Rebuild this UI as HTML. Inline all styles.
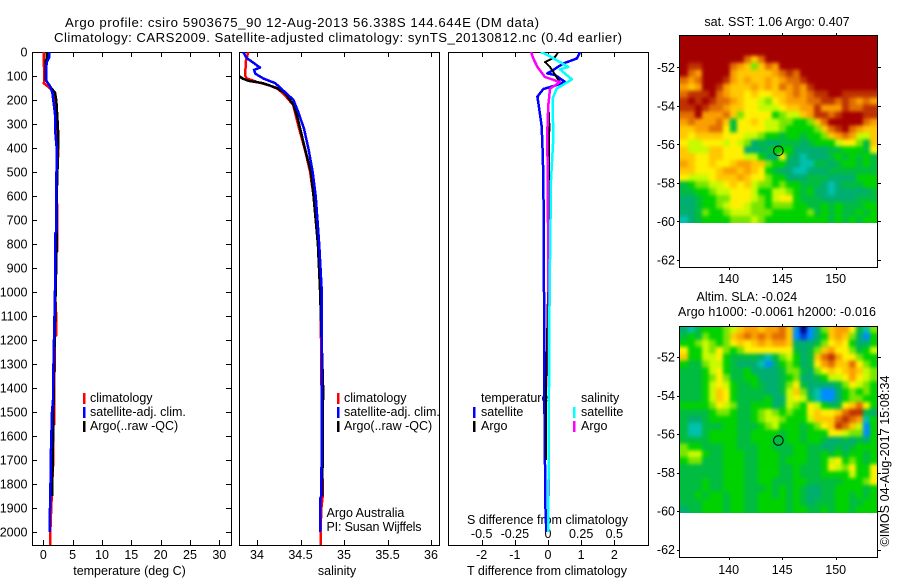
<!DOCTYPE html>
<html><head><meta charset="utf-8"><title>Argo profile</title>
<style>
html,body{margin:0;padding:0;background:#fff}
svg{display:block}
text{font-family:"Liberation Sans",sans-serif;font-size:12.5px;fill:#000}
text.ttl{font-size:13.2px}
</style></head>
<body>
<svg id="fig" width="900" height="580" viewBox="0 0 900 580" xmlns="http://www.w3.org/2000/svg">
<defs>
<clipPath id="c1"><rect x="32" y="52" width="199" height="493"/></clipPath>
<clipPath id="c2"><rect x="239" y="52" width="200" height="493"/></clipPath>
<clipPath id="c3"><rect x="448" y="52" width="200" height="493"/></clipPath>
<clipPath id="m1"><rect x="680" y="35" width="198" height="188"/></clipPath>
<clipPath id="m2"><rect x="680" y="326" width="198" height="187"/></clipPath>
<filter id="soft" filterUnits="userSpaceOnUse" x="640" y="0" width="260" height="580" color-interpolation-filters="sRGB"><feGaussianBlur stdDeviation="1.9"/></filter>
</defs>
<text class="ttl" x="65" y="27" textLength="474" lengthAdjust="spacing">Argo profile: csiro 5903675_90 12-Aug-2013 56.338S 144.644E (DM data)</text>
<text class="ttl" x="54" y="42" textLength="568" lengthAdjust="spacing">Climatology: CARS2009. Satellite-adjusted climatology: synTS_20130812.nc (0.4d earlier)</text>

<text x="129.5" y="575" text-anchor="middle">temperature (deg C)</text>
<text x="337" y="575" text-anchor="middle">salinity</text>
<text x="547" y="575" text-anchor="middle">T difference from climatology</text>
<text x="547.5" y="524" text-anchor="middle">S difference from climatology</text>

<g>
<rect x="83" y="393" width="2.5" height="11" fill="#f00"/>
<text x="90" y="402">climatology</text>
<rect x="83" y="407" width="2.5" height="11" fill="#00f"/>
<text x="90" y="416">satellite-adj. clim.</text>
<rect x="83" y="421" width="2.5" height="11" fill="#000"/>
<text x="90" y="430">Argo(..raw -QC)</text>
</g>
<g>
<rect x="337" y="393" width="2.5" height="11" fill="#f00"/>
<text x="344" y="402">climatology</text>
<rect x="337" y="407" width="2.5" height="11" fill="#00f"/>
<text x="344" y="416">satellite-adj. clim.</text>
<rect x="337" y="421" width="2.5" height="11" fill="#000"/>
<text x="344" y="430">Argo(..raw -QC)</text>
</g>
<text x="326.5" y="517">Argo Australia</text>
<text x="326.5" y="531" textLength="95">PI: Susan Wijffels</text>
<g>
<text x="481" y="402">temperature</text>
<rect x="473" y="407" width="2.5" height="11" fill="#00f"/>
<text x="481" y="416">satellite</text>
<rect x="473" y="421" width="2.5" height="11" fill="#000"/>
<text x="481" y="430">Argo</text>
<text x="581" y="402">salinity</text>
<rect x="573" y="407" width="2.5" height="11" fill="#0ff"/>
<text x="581" y="416">satellite</text>
<rect x="573" y="421" width="2.5" height="11" fill="#f0f"/>
<text x="581" y="430">Argo</text>
</g>

<text x="777" y="26" text-anchor="middle">sat. SST: 1.06 Argo: 0.407</text>
<text x="696.5" y="301">Altim. SLA: -0.024</text>
<text x="678" y="316" textLength="198">Argo h1000: -0.0061 h2000: -0.016</text>
<text transform="translate(889,546.5) rotate(-90)" textLength="171" lengthAdjust="spacing">©IMOS 04-Aug-2017 15:08:34</text>
<g id="plots"></g>
</svg>
<script>
// ---- axis tick labels
const depthTicks = [0,100,200,300,400,500,600,700,800,900,1000,1100,1200,1300,1400,1500,1600,1700,1800,1900,2000];
const tempTicks = [0,5,10,15,20,25,30];
const salTicks = [34,34.5,35,35.5,36];
const tDiffTicks = [-2,-1,0,1,2];
const sDiffTicks = [-0.5,-0.25,0,0.25,0.5];
const lonTicks = [140,145,150];
const latTicks = [-52,-54,-56,-58,-60,-62];

// ---- Argo float position
const argoLon = 144.644;
const argoLat = -56.338;

// ---- temperature panel
const tClimDepth = [0,120,130,150,175,300,365,400,440,445,500,800,830,835,1000,1100,1180,1185,1500,1550,1555,1700,1780,2000,2054];
const tClimVal = [0.07,0.17,0.07,1.1,2.0,2.17,2.5,2.5,2.5,2.3,2.28,2.4,2.4,2.15,2.0,2.2,2.2,1.95,1.88,1.88,1.7,1.7,1.55,1.2,1.2];
const tSatDepth = [0,20,40,60,120,140,170,200,230,260,320,400,500,750,755,1000,1400,1450,1500,1700,1900,1905,2000];
const tSatVal = [1.03,1.05,0.65,0.5,0.5,1.1,1.55,1.7,1.85,2.0,2.0,2.28,2.25,2.2,2.05,2.0,1.65,1.65,1.48,1.26,1.2,1.08,1.08];
const tArgoDepth = [0,30,35,115,145,170,200,300,350,460,600,800,1000,1400,1550,1800,1850];
const tArgoVal = [0.63,0.6,0.4,0.4,1.2,2.0,2.22,2.45,2.55,2.45,2.28,2.28,2.1,1.77,1.7,1.53,1.53];

// ---- salinity panel
const sClimDepth = [0,40,100,110,125,140,155,180,220,300,420,500,650,800,1000,1850,1900,2000,2054];
const sClimVal = [33.9,33.87,33.865,33.88,34.0,34.15,34.245,34.32,34.415,34.47,34.56,34.61,34.67,34.705,34.73,34.755,34.74,34.73,34.73];
const sSatDepth = [0,25,45,65,75,90,110,130,160,200,250,320,400,500,600,800,1000,1400,1850,1860,2000];
const sSatVal = [33.84,33.88,33.96,34.035,33.965,33.98,34.07,34.21,34.30,34.42,34.475,34.54,34.59,34.64,34.675,34.715,34.745,34.745,34.74,34.725,34.725];
const sArgoDepth = [100,110,120,130,150,170,220,280,400,500,600,800,1000,1400,1850];
const sArgoVal = [33.8,33.83,33.9,34.07,34.225,34.32,34.42,34.47,34.55,34.62,34.65,34.70,34.725,34.76,34.75];

// ---- difference panel
const dTSatDepth = [0,27,48,75,89,96,124,138,154,186,242,311,422,533,1000,1400,1550,1880,2000];
const dTSatVal = [0.97,0.87,0.46,0.16,-0.02,0.21,0.51,0.26,-0.14,-0.32,-0.26,-0.19,-0.16,-0.14,-0.12,-0.12,-0.1,-0.08,-0.05];
const dTArgoDepth = [0,21,42,62,104,125,153,208,300,533,1000,1400,1700];
const dTArgoVal = [0.31,0.21,-0.09,0.06,0.26,0.36,0.06,0.01,0.04,0.03,0,-0.06,-0.06];
const dSSatDepth = [0,14,62,72,114,153,194,361,533,1000,1400,1700,2000];
const dSSatVal = [-0.055,0.002,0.153,0.09,0.18,0.065,0.035,0.04,0.023,0.012,0.0075,0.005,0];
const dSArgoDepth = [0,28,62,104,125,153,222,333,533,1000,1400,1850];
const dSArgoVal = [-0.128,-0.11,-0.08,-0.023,0.09,0.015,0.002,-0.005,-0.002,0.004,0.0075,0.005];

// ---- map heatmap cells: each letter is a colour-scale level, a=lowest, o=highest
const sstRows = [
"oooooooooooooooooooooooooooo",
"oooooooooooooooooooooooooooo",
"oooooooooooooooooooooooooooo",
"ooooooooomkmoooooooooooooooo",
"onnoooomlkhkmloooooooooooooo",
"omloooolkkkkklmnmooooooooooo",
"mlmooonlklkklklmmnoooooooooo",
"lkloonlkkklklkmlmlnooooooooo",
"mnnnomlkkjkjjkklmlmnnoonnnnn",
"nonon"+"mml"+"kjjihj"+"klll"+"mm"+"nnmnmlml",
"nnonm"+"mlk"+"kjjiiij"+"kkll"+"n"+"lll"+"n"+"mmnn",
"mmo"+"ll"+"lm"+"k"+"h"+"jjjj"+"g"+"hii"+"kl"+"nn"+"mn"+"ooo"+"nn",
"lmlll"+"m"+"k"+"f"+"jjkj"+"iihh"+"gg"+"h"+"k"+"m"+"ooooo"+"m"+"l",
"kk"+"ll"+"mm"+"j"+"f"+"jjjj"+"iih"+"ggg"+"gh"+"k"+"m"+"no"+"m"+"lk"+"k",
"kj"+"kkkk"+"jjj"+"ii"+"hg"+"gfggfg"+"g"+"h"+"k"+"l"+"m"+"l"+"i"+"i"+"k",
"j"+"ii"+"jjj"+"iji"+"h"+"efeef"+"ff"+"e"+"fgg"+"g"+"ijj"+"h"+"f"+"k",
"k"+"ii"+"i"+"kk"+"jjj"+"eee"+"f"+"g"+"g"+"g"+"eeeee"+"ff"+"g"+"gg"+"f"+"j",
"kk"+"jj"+"kk"+"jjj"+"ii"+"g"+"ee"+"j"+"f"+"edeee"+"fgfgfgf",
"lk"+"jj"+"k"+"jj"+"kll"+"kk"+"h"+"gg"+"ee"+"dd"+"ffef"+"ggfgf",
"kk"+"jjj"+"kll"+"klk"+"j"+"g"+"f"+"ee"+"dd"+"eee"+"fffffff",
"j"+"iii"+"j"+"kk"+"klk"+"jj"+"h"+"gg"+"eee"+"fff"+"eeee"+"ggg",
"f"+"g"+"hh"+"ii"+"jkjk"+"i"+"hh"+"g"+"h"+"gg"+"fff"+"e"+"d"+"e"+"fff"+"g"+"g",
"ff"+"gg"+"h"+"ii"+"jjj"+"i"+"gg"+"iih"+"gfg"+"ee"+"d"+"eeeee"+"f",
"eef"+"gg"+"hh"+"jjj"+"i"+"h"+"g"+"ijj"+"g"+"fff"+"ee"+"eee"+"fff",
"ee"+"f"+"gg"+"h"+"ijji"+"hh"+"g"+"hhh"+"gg"+"ff"+"g"+"f"+"g"+"fff"+"g"+"g",
"ee"+"f"+"h"+"gg"+"h"+"iii"+"hhh"+"ggg"+"gg"+"h"+"fgfg"+"ffgfg",
"de"+"f"+"gggg"+"hhh"+"i"+"h"+"g"+"gggggggg"+"fgfgfgg"
];
const slaRows = [
"edfggghi"+"kllkllmk"+"cac"+"e"+"hkll"+"jfdh",
"fgfhgghk"+"lmlmlmmk"+"cbc"+"e"+"gklk"+"hecg",
"gghihghj"+"kjklkllk"+"eee"+"f"+"hjkj"+"geeg",
"jggihjhg"+"hjjjjjjj"+"fef"+"hkljjhfgi",
"kggiijgf"+"fffedfhi"+"gef"+"kmnljjhgg",
"gffhiigf"+"eeedcegh"+"gef"+"jlmkkmjhg",
"fffgijgf"+"fgeeeefh"+"hfe"+"hjkjklkih",
"fffghjhf"+"fggeeefg"+"hee"+"fgiijljih",
"fffgijig"+"ffgfeefh"+"jfe"+"eeefhjihg",
"fffgikjg"+"ffffeefi"+"khe"+"dcceghghg",
"fffgikjg"+"ffffgeei"+"jif"+"dcceghhgg",
"gggghjih"+"ffgggefi"+"hgj"+"igffjkmjg",
"ffffghhg"+"ffghihgh"+"ggj"+"kjjkmnnfe",
"feefgggg"+"ffghiihg"+"ggi"+"kkkmnmldg",
"fddfffgg"+"fffghigg"+"gfg"+"hjknmkicg",
"fddfgggg"+"ffggggfg"+"gfg"+"ggjjihhcg",
"ffffgggg"+"ffgggffg"+"gfg"+"gfeefefeg",
"hggfffgg"+"fffggfff"+"ggf"+"feefefggg",
"hiigffgg"+"gffgggff"+"ggf"+"fgfgfggfg",
"ghhfffgg"+"gffgggfg"+"ggf"+"fgijghgfg",
"ffffffgg"+"gffgggff"+"gff"+"fgjihjggj",
"ffffffgg"+"gffgggff"+"gff"+"fggggiggj",
"fffgffgg"+"gffggfff"+"ggf"+"ffffggghj",
"fffgffgg"+"gfffgfgf"+"gfe"+"effggggfg",
"ffgfggfg"+"gffggfgf"+"gfe"+"effggfgfg",
"fffgggfg"+"gffggggf"+"gfe"+"fffggffgg",
"effgggfg"+"gffggggf"+"ggf"+"fgfggfggg"
];
const levelLetters = "abcdefghijklmno";
const levelColors = ["#000082","#003cdc","#008cff","#00c0b0","#00ae70","#00bc40","#00d200","#78e600","#c8fa00","#fff000","#ffc800","#fa9f00","#e16e00","#be3200","#a50000"];

// ---- axis functions
const NS = "http://www.w3.org/2000/svg";
const root = document.getElementById("plots");
const yDepth = d => 52 + d * 0.24;
const xTemp = v => 43.3 + v * 5.867;
const xSal = v => 257 + (v - 34) * 87;
const xTDiff = v => 548 + v * 33.15;
const xSDiff = v => 548 + v * 132.6;
const xLon = v => 728.7 + (v - 140) * 10.7;
const ySst = v => 67.3 + (-52 - v) * 19.25;
const ySla = v => 357 + (-52 - v) * 19.25;

function svgEl(tag, attrs, parent) {
  const el = document.createElementNS(NS, tag);
  for (const k in attrs) el.setAttribute(k, attrs[k]);
  parent.appendChild(el);
  return el;
}
function tickLine(x1, y1, x2, y2, parent) {
  const el = svgEl("line", {x1:x1, y1:y1, x2:x2, y2:y2, stroke:"#000", "stroke-width":1, "shape-rendering":"crispEdges"}, parent);
  
  
}
function tickText(x, y, str, anchor, parent) {
  const el = svgEl("text", {x:x, y:y, "text-anchor":anchor}, parent);
  el.textContent = str;
  
  
}
function frame(x, y, w, h, parent) {
  const el = svgEl("rect", {x:x+0.5, y:y+0.5, width:w, height:h, fill:"none", stroke:"#000", "stroke-width":1, "shape-rendering":"crispEdges"}, parent);
  
  
}
function profile(depths, values, xFn, color, width, clip, name) {
  const pts = depths.map((d, i) => xFn(values[i]).toFixed(1) + "," + yDepth(d).toFixed(1)).join(" ");
  const el = svgEl("polyline", {points:pts, fill:"none", stroke:color, "stroke-width":width, "clip-path":"url(#" + clip + ")", "stroke-linejoin":"round", "shape-rendering":"crispEdges"}, root);
  
  
}

// temperature panel
const p1 = svgEl("g", {}, root);


profile(tClimDepth, tClimVal, xTemp, "#f00", 2.5, "c1", "temperature-climatology-line");
profile(tArgoDepth, tArgoVal, xTemp, "#000", 2.5, "c1", "temperature-argo-line");
profile(tSatDepth, tSatVal, xTemp, "#00f", 2.5, "c1", "temperature-satellite-line");
frame(32, 52, 199, 493, p1);
depthTicks.forEach(d => {
  tickLine(32, Math.round(yDepth(d))+0.5, 37, Math.round(yDepth(d))+0.5, p1);
  tickLine(226, Math.round(yDepth(d))+0.5, 231, Math.round(yDepth(d))+0.5, p1);
  tickText(27.5, yDepth(d)+4.5, String(d), "end", p1);
});
tempTicks.forEach(v => {
  tickLine(Math.round(xTemp(v))+0.5, 52, Math.round(xTemp(v))+0.5, 57, p1);
  tickLine(Math.round(xTemp(v))+0.5, 540, Math.round(xTemp(v))+0.5, 545, p1);
  tickText(xTemp(v), 559, String(v), "middle", p1);
});

// salinity panel
const p2 = svgEl("g", {}, root);


profile(sClimDepth, sClimVal, xSal, "#f00", 2.5, "c2", "salinity-climatology-line");
profile(sArgoDepth, sArgoVal, xSal, "#000", 2.5, "c2", "salinity-argo-line");
profile(sSatDepth, sSatVal, xSal, "#00f", 2.5, "c2", "salinity-satellite-line");
frame(239, 52, 200, 493, p2);
salTicks.forEach(v => {
  tickLine(Math.round(xSal(v))+0.5, 52, Math.round(xSal(v))+0.5, 57, p2);
  tickLine(Math.round(xSal(v))+0.5, 540, Math.round(xSal(v))+0.5, 545, p2);
  tickText(xSal(v), 559, String(v), "middle", p2);
});

// difference panel
const p3 = svgEl("g", {}, root);


profile(dTSatDepth, dTSatVal, xTDiff, "#00f", 2.5, "c3", "t-difference-satellite-line");
profile(dTArgoDepth, dTArgoVal, xTDiff, "#000", 2, "c3", "t-difference-argo-line");
profile(dSArgoDepth, dSArgoVal, xSDiff, "#f0f", 2.5, "c3", "s-difference-argo-line");
profile(dSSatDepth, dSSatVal, xSDiff, "#0ff", 2.5, "c3", "s-difference-satellite-line");
frame(448, 52, 200, 493, p3);
tDiffTicks.forEach(v => {
  tickLine(Math.round(xTDiff(v))+0.5, 52, Math.round(xTDiff(v))+0.5, 57, p3);
  tickLine(Math.round(xTDiff(v))+0.5, 540, Math.round(xTDiff(v))+0.5, 545, p3);
  tickText(xTDiff(v), 559, String(v), "middle", p3);
});
sDiffTicks.forEach(v => {
  tickText(xSDiff(v), 538, String(v), "middle", p3);
});

// maps
function drawMap(rows, yFn, lonStart, latStart, dLon, dLat, clip, cellName, frameTop, frameH, lonLabelY) {
  const clipGroup = svgEl("g", {"clip-path":"url(#" + clip + ")"}, root);
  const g = svgEl("g", {filter:"url(#soft)"}, clipGroup);
  rows.forEach((row, r) => {
    [...row].forEach((ch, c) => {
      let x0 = xLon(lonStart + c * dLon), x1 = xLon(lonStart + (c + 1) * dLon);
      let y0 = yFn(latStart - r * dLat), y1 = yFn(latStart - (r + 1) * dLat);
      // outer cells bleed past the clip so the soft filter keeps the map edges solid
      if (c === 0) x0 -= 8;
      if (c === row.length - 1) x1 += 8;
      if (r === 0) y0 -= 8;
      if (r === rows.length - 1) y1 += 8;
      const el = svgEl("rect", {x:x0.toFixed(2), y:y0.toFixed(2), width:(x1-x0+0.3).toFixed(2), height:(y1-y0+0.3).toFixed(2), fill:levelColors[levelLetters.indexOf(ch)]}, g);
      
      
    });
  });
  const m = svgEl("g", {}, root);
  
  
  frame(679, frameTop, 198, frameH, m);
  lonTicks.forEach(v => {
    const x = Math.round(xLon(v)) + 0.5;
    tickLine(x, frameTop - 2, x, frameTop, m);
    tickLine(x, frameTop + frameH + 1, x, frameTop + frameH + 3, m);
    tickText(xLon(v), lonLabelY, String(v), "middle", m);
  });
  latTicks.forEach(v => {
    const y = Math.round(yFn(v)) + 0.5;
    tickLine(677, y, 679, y, m);
    tickLine(878, y, 881, y, m);
    tickText(675, yFn(v) + 4.5, String(v), "end", m);
  });
  const mark = svgEl("circle", {cx:xLon(argoLon), cy:yFn(argoLat), r:4.8, fill:"none", stroke:"#000", "stroke-width":1}, m);
  
  
}
drawMap(sstRows, ySst, 135.54, -50.32, 0.654, 0.3617, "m1", "sst-map-cell", 35, 232, 283);
drawMap(slaRows, ySla, 135.54, -50.39, 0.654, 0.359, "m2", "sla-map-cell", 326, 231, 574);
</script>
</body></html>
